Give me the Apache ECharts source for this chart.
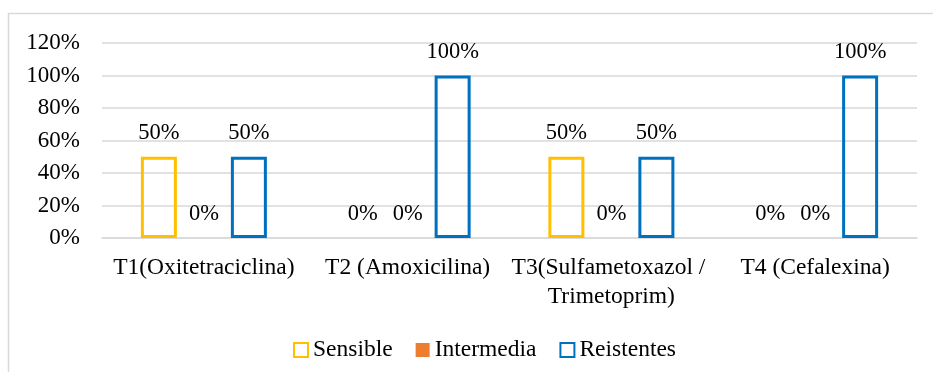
<!DOCTYPE html>
<html>
<head>
<meta charset="utf-8">
<script src="https://cdn.jsdelivr.net/npm/echarts@6/dist/echarts.min.js"></script>
<style>
  html, body { margin: 0; padding: 0; background: #fff; }
  #chart { width: 933px; height: 372px; }
</style>
</head>
<body>
<div id="chart"></div>
<script>
// Antibiotic susceptibility per treatment (percent of isolates)
var categories = ['T1(Oxitetraciclina)', 'T2 (Amoxicilina)', 'T3(Sulfametoxazol / Trimetoprim)', 'T4 (Cefalexina)'];
var sensible = [50, 0, 50, 0];
var intermedia = [0, 0, 0, 0];
var reistentes = [50, 100, 50, 100];
var yTicks = [0, 20, 40, 60, 80, 100, 120];

var FONT = 'Liberation Serif, Times New Roman, serif';
var TEXT = '#000';

function barData(values) {
  // zero-height outlined bars would leave a coloured line on the baseline
  return values.map(function (v) {
    return v === 0 ? { value: v, itemStyle: { borderWidth: 0 } } : v;
  });
}

function makeSeries(name, values, color, hollow) {
  return {
    name: name,
    type: 'bar',
    barWidth: 36,
    barGap: '25%',
    data: hollow ? barData(values) : values,
    itemStyle: hollow
      ? { color: 'rgba(255,255,255,0)', borderColor: color, borderWidth: 3 }
      : { color: color },
    label: {
      show: true,
      position: 'top',
      distance: 12,
      formatter: '{c}%',
      color: TEXT,
      fontFamily: FONT,
      fontSize: 22.5
    }
  };
}

var chart = echarts.init(document.getElementById('chart'), null, { renderer: 'canvas' });
chart.setOption({
  animation: false,
  backgroundColor: '#fff',
  graphic: [{
    type: 'rect',
    shape: { x: 8.5, y: 13.5, width: 1000, height: 400 },
    style: { fill: 'none', stroke: '#d9d9d9', lineWidth: 1.5 },
    silent: true
  }],
  grid: { left: 102, right: 16, top: 43, bottom: 134 },
  legend: {
    left: 288,
    top: 333,
    itemWidth: 14,
    itemHeight: 14,
    itemGap: 23,
    icon: 'rect',
    textStyle: { color: TEXT, fontFamily: FONT, fontSize: 23.5 },
    data: ['Sensible', 'Intermedia', 'Reistentes']
  },
  xAxis: {
    type: 'category',
    data: categories,
    axisLine: { show: true, lineStyle: { color: '#d9d9d9', width: 1.5 } },
    axisTick: { show: false },
    axisLabel: {
      color: TEXT,
      fontFamily: FONT,
      fontSize: 23.5,
      lineHeight: 29,
      margin: 15,
      interval: 0,
      width: 200,
      overflow: 'break'
    }
  },
  yAxis: {
    type: 'value',
    min: yTicks[0],
    max: yTicks[yTicks.length - 1],
    interval: yTicks[1] - yTicks[0],
    axisLine: { show: false },
    axisTick: { show: false },
    splitLine: { lineStyle: { color: '#d9d9d9', width: 1.5 } },
    axisLabel: {
      color: TEXT,
      fontFamily: FONT,
      fontSize: 23,
      margin: 22,
      formatter: '{value}%'
    }
  },
  series: [
    makeSeries('Sensible', sensible, '#FFC000', true),
    makeSeries('Intermedia', intermedia, '#ED7D31', false),
    makeSeries('Reistentes', reistentes, '#0070C0', true)
  ]
});
</script>
</body>
</html>
